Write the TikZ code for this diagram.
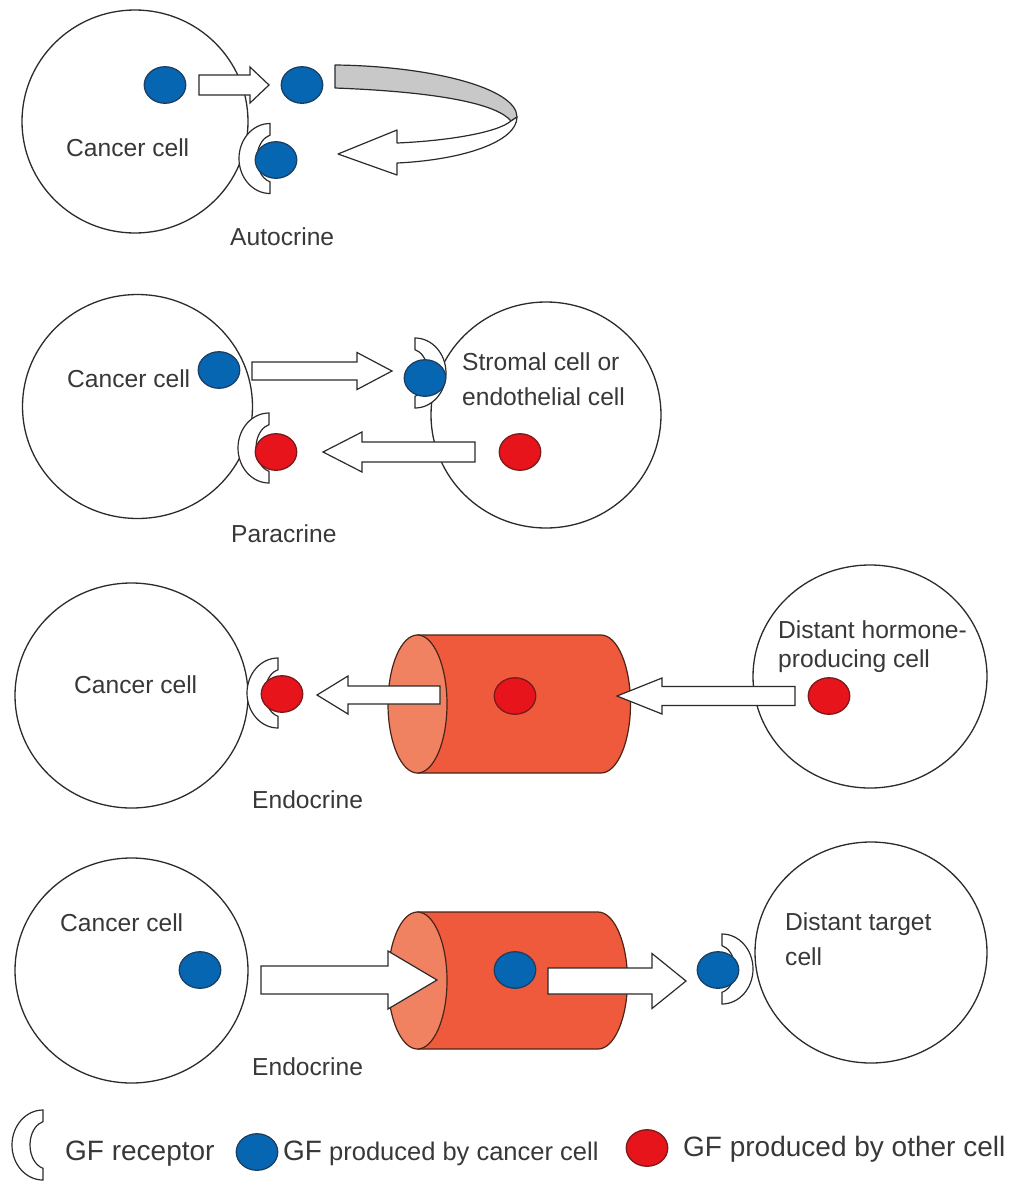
\documentclass[tikz,border=0pt]{standalone}
\usepackage{fontspec}
\setmainfont{Liberation Sans}
\usetikzlibrary{shapes.geometric}

\definecolor{inkline}{HTML}{2B2B2B}
\definecolor{textgray}{HTML}{383838}
\definecolor{gfblue}{HTML}{0766B2}
\definecolor{gfblueline}{HTML}{1D3E63}
\definecolor{gfred}{HTML}{E8141C}
\definecolor{gfredline}{HTML}{7A1A1A}
\definecolor{vesselbody}{HTML}{EE5A3B}
\definecolor{vesselface}{HTML}{F08262}
\definecolor{vesselline}{HTML}{4A2418}
\definecolor{ribbon}{HTML}{C8C8C8}

\tikzset{
  cell/.style={ellipse, draw=inkline, line width=1.3pt, fill=white, inner sep=0pt},
  bluegf/.style={ellipse, draw=gfblueline, fill=gfblue, line width=1.3pt,
    minimum width=41.5pt, minimum height=36.5pt, inner sep=0pt},
  redgf/.style={ellipse, draw=gfredline, fill=gfred, line width=1.3pt,
    minimum width=41.5pt, minimum height=36.5pt, inner sep=0pt},
  caption/.style={text=textgray, font=\fontsize{24.6}{28}\selectfont,
    inner sep=0pt, anchor=base west},
  blockarrow/.style={draw=inkline, fill=white, line width=1.2pt, line join=miter},
  receptorshape/.style={draw=inkline, fill=white, line width=1.2pt},
  vesselshape/.style={draw=vesselline, line width=1.2pt},
}

% receptor: flat-end x, centre y, 1 = bulging to the left, -1 = bulging to the right
\newcommand\receptor[3]{%
  \begin{scope}[shift={(#1,#2)}, xscale=#3]
    \draw[receptorshape] (0,-35)
      arc[start angle=-90, end angle=-270, x radius=31, y radius=35]
      -- (0,23.3)
      arc[start angle=103.6, end angle=256.4, x radius=17, y radius=24]
      -- cycle;
  \end{scope}}

% block arrow: tail x, tip x, y, shaft half width, head half width, head length
\newcommand\fatarrow[6]{%
  \pgfmathsetmacro\arrbase{#2-ifthenelse(#2>#1,1,-1)*#6}%
  \draw[blockarrow] (#1,#3-#4) -- (\arrbase,#3-#4) -- (\arrbase,#3-#5)
    -- (#2,#3) -- (\arrbase,#3+#5) -- (\arrbase,#3+#4) -- (#1,#3+#4) -- cycle;}

% blood vessel: left end x, right end x, centre y, end x radius, end y radius
\newcommand\vessel[5]{%
  \draw[vesselshape, fill=vesselbody] (#1,#3-#5) -- (#2,#3-#5)
    arc[start angle=-90, end angle=90, x radius=#4, y radius=#5]
    -- (#1,#3+#5) -- cycle;
  \draw[vesselshape, fill=vesselface] (#1,#3) ellipse[x radius=#4, y radius=#5];}

\begin{document}
\begin{tikzpicture}[x=1pt, y=-1pt]
\useasboundingbox (0,0) rectangle (1013,1181);

% ---------------- Autocrine ----------------
\node[cell, minimum width=226pt, minimum height=223pt] (autocell) at (135,121.5) {};
\node[caption] (autotext) at (66,156) {Cancer cell};
\node[caption] (autolabel) at (230,245) {Autocrine};

% looping ribbon: grey back side, white front side ending in the arrow head
\draw[draw=inkline, fill=ribbon, line width=1.2pt, line join=round]
  (335,65) .. controls (430,66) and (517,88) .. (517,117)
  -- (511,121) .. controls (497,104) and (440,92) .. (335,88) -- cycle;
\draw[blockarrow, line join=round]
  (511,121) .. controls (497,133) and (445,141) .. (397,143)
  -- (397,130) -- (338,154) -- (397,175) -- (397,163)
  .. controls (462,160) and (517,142) .. (517,117) -- cycle;

\receptor{270}{158.5}{1}
\node[bluegf] (autogf1) at (165,85) {};
\node[bluegf] (autogf2) at (302,85) {};
\node[bluegf] (autogf3) at (276,160) {};
\fatarrow{199}{269}{85}{10}{18}{19}

% ---------------- Paracrine ----------------
\node[cell, minimum width=230pt, minimum height=224pt] (paracell) at (137.5,406.5) {};
\node[cell, minimum width=230pt, minimum height=226pt] (stromacell) at (546,415) {};
\node[caption] (paratext) at (67,387) {Cancer cell};
\node[caption] (stromatext1) at (462,370) {Stromal cell or};
\node[caption] (stromatext2) at (462,405) {endothelial cell};
\node[caption] (paralabel) at (231,542) {Paracrine};

\receptor{415}{373}{-1}
\receptor{269}{448}{1}
\node[bluegf] (paragf1) at (219,370) {};
\node[bluegf] (paragf2) at (425,378) {};
\node[redgf] (paragf3) at (276,452) {};
\node[redgf] (paragf4) at (520,452) {};
\fatarrow{252}{392}{371}{9}{18.5}{35}
\fatarrow{475}{323}{452}{10}{20}{39}

% ---------------- Endocrine (incoming) ----------------
\node[cell, minimum width=233pt, minimum height=225pt] (endocell1) at (131.5,695.5) {};
\node[cell, minimum width=234pt, minimum height=223pt] (hormonecell) at (870,676.5) {};
\node[caption] (endotext1) at (74,693) {Cancer cell};
\node[caption] (hormonetext1) at (778,638) {Distant hormone-};
\node[caption] (hormonetext2) at (778,667) {producing cell};
\node[caption] (endolabel1) at (252,808) {Endocrine};

\vessel{417.5}{601}{704}{29.5}{69}
\receptor{278}{693}{1}
\node[redgf] (endogf1) at (282,694) {};
\node[redgf] (endogf2) at (515,696) {};
\node[redgf] (endogf3) at (829,696) {};
\fatarrow{440}{317}{695}{9}{19}{31}
\fatarrow{795}{617}{696}{9.5}{18}{45}

% ---------------- Endocrine (outgoing) ----------------
\node[cell, minimum width=233pt, minimum height=225pt] (endocell2) at (131.5,970.5) {};
\node[cell, minimum width=232pt, minimum height=221pt] (targetcell) at (871,952.5) {};
\node[caption] (endotext2) at (60,931) {Cancer cell};
\node[caption] (targettext1) at (785,930) {Distant target};
\node[caption] (targettext2) at (785,965) {cell};
\node[caption] (endolabel2) at (252,1075) {Endocrine};

\vessel{417.5}{598}{980.5}{29.5}{68.5}
\receptor{722}{969}{-1}
\node[bluegf] (endogf4) at (200,970) {};
\node[bluegf] (endogf5) at (515,970) {};
\node[bluegf] (endogf6) at (718,970) {};
\fatarrow{261}{437}{980}{14}{29}{49}
\fatarrow{548}{686}{981}{13}{27.5}{34}

% ---------------- Legend ----------------
\receptor{43}{1145}{1}
\node[caption, font=\fontsize{28}{30}\selectfont] (legendrec) at (65,1160) {GF receptor};
\node[bluegf] (legendblue) at (257,1152) {};
\node[caption, font=\fontsize{25.5}{30}\selectfont] (legendbluetext) at (283,1160)
  {{\fontsize{28}{30}\selectfont GF} produced by cancer cell};
\node[redgf] (legendred) at (647,1148) {};
\node[caption, font=\fontsize{28}{30}\selectfont] (legendredtext) at (683,1156)
  {GF produced by other cell};
\end{tikzpicture}
\end{document}
